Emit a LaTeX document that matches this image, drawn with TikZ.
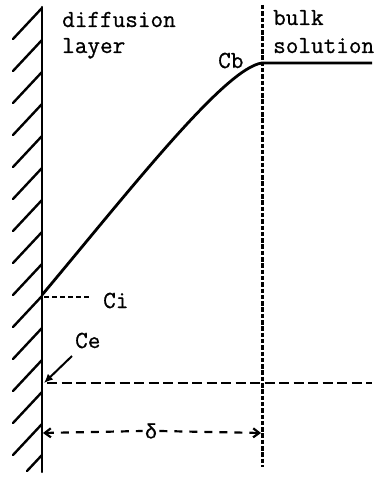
\documentclass[tikz,border=0pt]{standalone}
\usepackage{fontspec}
\newfontfamily\tw[FakeBold=0.8]{Latin Modern Mono}
\newfontfamily\gk[FakeBold=0.6]{Liberation Mono}
\usetikzlibrary{arrows.meta}
\begin{document}
\begin{tikzpicture}[x=1bp,y=-1bp,
  lbl/.style={font=\tw\fontsize{24.5bp}{26bp}\selectfont, inner sep=0pt, anchor=base west},
  wall/.style={line width=2.4bp, line cap=round},
  hatch/.style={line width=2.4bp, line cap=round},
  curve/.style={line width=2.8bp},
  vdash/.style={line width=3bp, dash pattern=on 4.5bp off 1.8bp},
  hdash/.style={line width=2.8bp, dash pattern=on 10bp off 4.5bp},
  cidash/.style={line width=2.2bp, dash pattern=on 5bp off 3bp},
  ddash/.style={line width=2.2bp, dash pattern=on 8bp off 7bp}]
\useasboundingbox (0,0) rectangle (381,477);
% wall
\coordinate (wt) at (42,7);
\coordinate (wb) at (42,472);
\draw[wall] (wt) -- (wb);
\foreach \y in {8,40,72,104,136,168,200,232,264,296,328,360,392,424}{
  \draw[hatch] (42,\y) -- ++(-29,31);
}
\draw[hatch] (42,455) -- ++(-15,16);
% texts
\node[lbl] (t1) at (62,27) {diffusion};
\node[lbl] (t2) at (62,53) {layer};
\node[lbl] (t3) at (273,25) {bulk};
\node[lbl] (t4) at (273,53) {solution};
\node[lbl] (cb) at (218,68) {Cb};
\node[lbl] (ci) at (103,308) {Ci};
\node[lbl] (ce) at (75,348) {Ce};
% vertical dashed line
\coordinate (vt) at (262,5);
\coordinate (vb) at (262,467);
\draw[vdash] (vt) -- (vb);
% concentration profile
\coordinate (c0) at (42,295);
\coordinate (c1) at (262,63);
\coordinate (c2) at (372,63);
\draw[curve] (c0) .. controls (130,190) and (225,68) .. (c1) -- (c2);
% Ci marker
\coordinate (cis) at (44,297);
\coordinate (cie) at (92,297);
\draw[cidash] (cis) -- (cie);
% Ce arrow
\coordinate (cea) at (72,356);
\coordinate (ceb) at (44,383);
\draw[line width=2bp, -{Latex[length=9bp,width=8bp]}] (cea) -- (ceb);
% Ce horizontal dashed
\coordinate (hl) at (47,383);
\coordinate (hr) at (372,383);
\draw[hdash] (hl) -- (hr);
% delta
\coordinate (dl) at (43,433);
\coordinate (dr) at (261,433);
\node[anchor=center, font=\gk\fontsize{20.5bp}{22bp}\selectfont, fill=white, inner sep=2bp] (delta) at (151,431) {δ};
\draw[ddash, {Straight Barb[length=6bp,width=9bp]}-] (dl) -- (delta.west);
\draw[ddash, -{Straight Barb[length=6bp,width=9bp]}] (delta.east) -- (dr);
\end{tikzpicture}
\end{document}
